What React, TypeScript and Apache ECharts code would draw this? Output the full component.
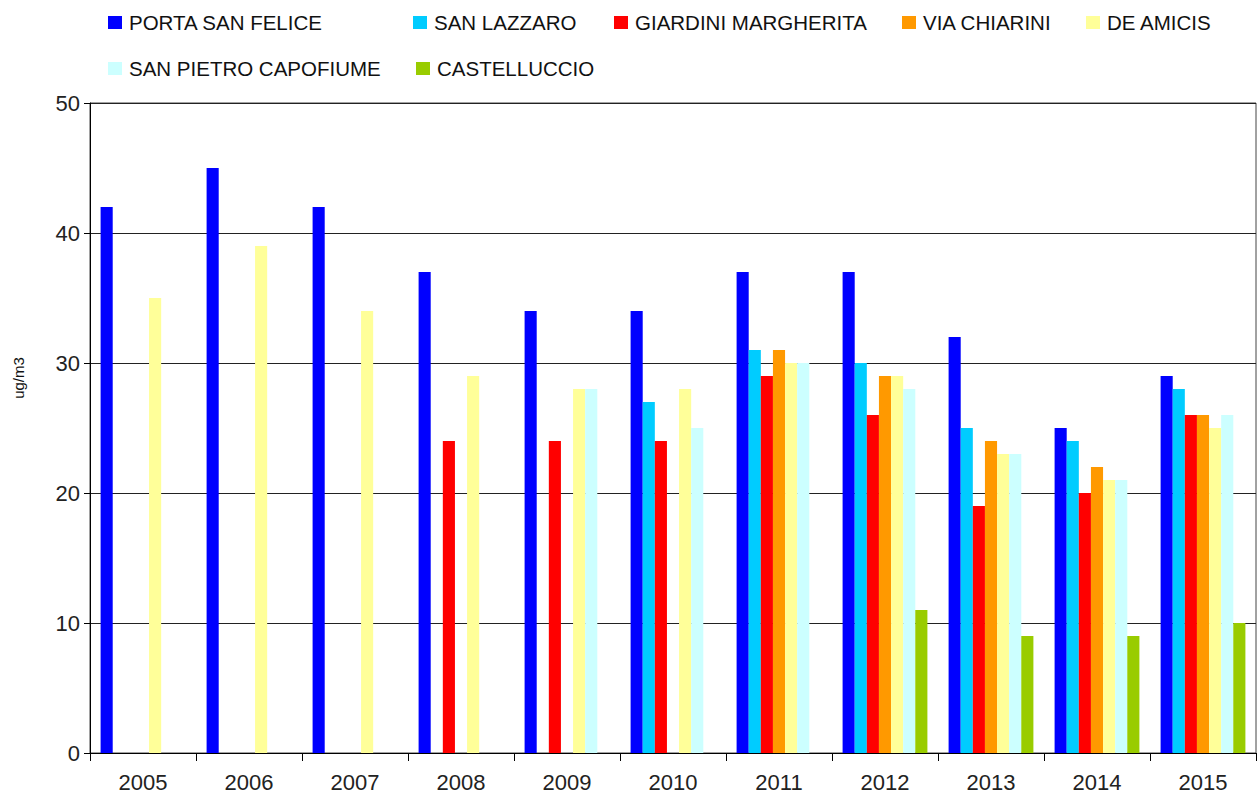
import React, { useEffect, useRef } from "react";
import * as echarts from "echarts";

const years = ["2005", "2006", "2007", "2008", "2009", "2010", "2011", "2012", "2013", "2014", "2015"];
const stationNames = [
  "PORTA SAN FELICE",
  "SAN LAZZARO",
  "GIARDINI MARGHERITA",
  "VIA CHIARINI",
  "DE AMICIS",
  "SAN PIETRO CAPOFIUME",
  "CASTELLUCCIO",
];
const portaSanFelice = [42, 45, 42, 37, 34, 34, 37, 37, 32, 25, 29];
const sanLazzaro = [null, null, null, null, null, 27, 31, 30, 25, 24, 28];
const giardiniMargherita = [null, null, null, 24, 24, 24, 29, 26, 19, 20, 26];
const viaChiarini = [null, null, null, null, null, null, 31, 29, 24, 22, 26];
const deAmicis = [35, 39, 34, 29, 28, 28, 30, 29, 23, 21, 25];
const sanPietroCapofiume = [null, null, null, null, 28, 25, 30, 28, 23, 21, 26];
const castelluccio = [null, null, null, null, null, null, null, 11, 9, 9, 10];
const yTicks = { min: 0, max: 50, interval: 10 };
const yName = "ug/m3";

const seriesValues = [
  portaSanFelice,
  sanLazzaro,
  giardiniMargherita,
  viaChiarini,
  deAmicis,
  sanPietroCapofiume,
  castelluccio,
];
const colors = ["#0000FF", "#00CCFF", "#FF0000", "#FF9900", "#FFFF99", "#CCFFFF", "#99CC00"];
const legendPos = [
  { left: 108, top: 12 },
  { left: 413, top: 12 },
  { left: 614, top: 12 },
  { left: 902, top: 12 },
  { left: 1086, top: 12 },
  { left: 108, top: 58 },
  { left: 416, top: 58 },
];

const FONT = "'Liberation Sans', Arial, sans-serif";

export default function App() {
  const ref = useRef<HTMLDivElement>(null);
  useEffect(() => {
    if (!ref.current) return;
    const chart = echarts.init(ref.current, undefined, { renderer: "svg" });
    chart.setOption({
      animation: false,
      backgroundColor: "#ffffff",
      color: colors,
      textStyle: { fontFamily: FONT },
      legend: stationNames.map((n, i) => ({
        data: [n],
        left: legendPos[i].left,
        top: legendPos[i].top,
        padding: 0,
        icon: "rect",
        itemWidth: 14,
        itemHeight: 13,
        selectedMode: false,
        textStyle: { fontSize: 20.5, color: "#111", fontFamily: FONT, padding: [0, 0, 0, 2] },
      })),
      grid: {
        left: 90,
        right: 1,
        top: 103,
        bottom: 43,
        show: true,
        borderColor: "#444",
        borderWidth: 1,
        containLabel: false,
      },
      graphic: [
        {
          type: "text",
          x: 18,
          y: 378,
          rotation: Math.PI / 2,
          style: {
            text: yName,
            fontSize: 15,
            fontFamily: FONT,
            fill: "#111",
            textAlign: "center",
            textVerticalAlign: "middle",
          },
        },
      ],
      xAxis: {
        type: "category",
        data: years,
        axisLine: { lineStyle: { color: "#000", width: 1 } },
        axisTick: { show: true, length: 8, interval: 0, lineStyle: { color: "#000" } },
        axisLabel: { fontSize: 22, color: "#222", margin: 18, fontFamily: FONT },
      },
      yAxis: {
        type: "value",
        min: yTicks.min,
        max: yTicks.max,
        interval: yTicks.interval,
        axisLine: { show: true, lineStyle: { color: "#000", width: 1 } },
        axisTick: { show: true, length: 6, lineStyle: { color: "#000" } },
        axisLabel: { fontSize: 22, color: "#222", margin: 10, fontFamily: FONT },
        splitLine: { show: true, lineStyle: { color: "#222", width: 1 } },
      },
      series: stationNames.map((n, i) => ({
        name: n,
        type: "bar",
        data: seriesValues[i],
        barGap: "0%",
        barCategoryGap: "20%",
        itemStyle: { color: colors[i] },
      })),
    });
    return () => chart.dispose();
  }, []);
  return <div ref={ref} style={{ position: "fixed", left: 0, top: 0, width: 1257, height: 796 }} />;
}
